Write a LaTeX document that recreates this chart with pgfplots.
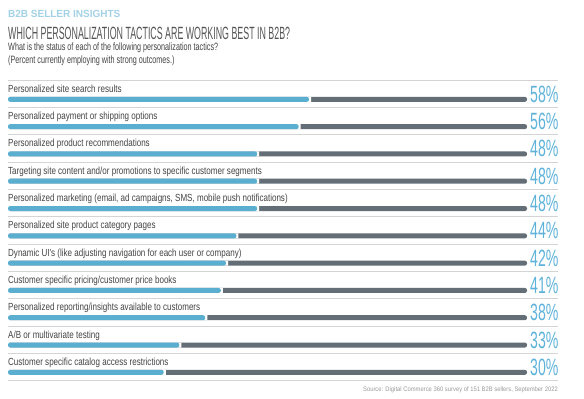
\documentclass[border=0pt]{standalone}
\usepackage{fontspec}
\setmainfont{Liberation Sans}
\newfontfamily\condfont[FakeStretch=0.78]{Liberation Sans}
\newfontfamily\subfont[FakeStretch=0.68]{Liberation Sans}
\newfontfamily\srcfont[FakeStretch=0.9]{Liberation Sans}
\newfontfamily\titlefont[FakeStretch=0.5]{Liberation Sans}
\newfontfamily\pctfont[FakeStretch=0.6]{Liberation Sans}
\newfontfamily\headfont[FakeStretch=0.97]{Liberation Sans}
\usepackage{pgfplots}
\usepackage{pgfplotstable}
\pgfplotsset{compat=1.18}
\definecolor{barblue}{HTML}{5AAED0}
\definecolor{bargray}{HTML}{636E76}
\definecolor{pctblue}{HTML}{5FB3DA}
\definecolor{headblue}{HTML}{A3D2E6}
\definecolor{titlegray}{HTML}{555555}
\definecolor{labelgray}{HTML}{444444}
\definecolor{sepgray}{HTML}{D4D4D4}
\definecolor{srcgray}{HTML}{9A9A9A}

\pgfplotstableread[col sep=semicolon]{
idx;label;v;gapend;full
0;Personalized site search results;58;58.4;100
1;Personalized payment or shipping options;56;56.4;100
2;Personalized product recommendations;48;48.4;100
3;Targeting site content and/or promotions to specific customer segments;48;48.4;100
4;Personalized marketing (email, ad campaigns, SMS, mobile push notifications);48;48.4;100
5;Personalized site product category pages;44;44.4;100
6;Dynamic UI's (like adjusting navigation for each user or company);42;42.4;100
7;Customer specific pricing/customer price books;41;41.4;100
8;Personalized reporting/insights available to customers;38;38.4;100
9;A/B or multivariate testing;33;33.4;100
10;Customer specific catalog access restrictions;30;30.4;100
}\datatable

\begin{document}
\begin{tikzpicture}[x=1bp,y=1bp]
\path[fill=white,use as bounding box] (0,0) rectangle (584,398);
\node[anchor=base west, inner sep=0pt, text=headblue, font=\headfont\bfseries\fontsize{10.3bp}{12bp}\selectfont] at (8,381) {B2B SELLER INSIGHTS};
\node[anchor=base west, inner sep=0pt, text=titlegray, font=\titlefont\fontsize{17.7bp}{20bp}\selectfont] at (8,358.7) {WHICH PERSONALIZATION TACTICS ARE WORKING BEST IN B2B?};
\node[anchor=base west, inner sep=0pt, text=labelgray, font=\subfont\fontsize{10.6bp}{12bp}\selectfont] at (8,348) {What is the status of each of the following personalization tactics?};
\node[anchor=base west, inner sep=0pt, text=labelgray, font=\subfont\fontsize{10.6bp}{12bp}\selectfont] at (8,335) {(Percent currently employing with strong outcomes.)};
\node[anchor=base east, inner sep=0pt, text=srcgray, font=\srcfont\fontsize{6.5bp}{7bp}\selectfont] at (558,7) {Source: Digital Commerce 360 survey of 151 B2B sellers, September 2022};
\begin{axis}[
  at={(8bp,9.3bp)}, anchor=south west,
  scale only axis, width=550bp, height=311.2bp,
  xmin=0, xmax=105.97, ymin=-0.8, ymax=10.6, y dir=reverse,
  xbar, bar width=5bp, bar shift=0pt,
  axis line style={draw=none}, major tick length=0pt,
  xtick=\empty,
  ytick={0,1,2,3,4,5,6,7,8,9,10},
  yticklabels from table={\datatable}{label},
  yticklabel style={anchor=base west, inner sep=0pt, yshift=7bp, xshift=0bp,
    font=\condfont\fontsize{10.3bp}{12bp}\selectfont, text=labelgray},
  extra y ticks={-0.7,0.3,1.3,2.3,3.3,4.3,5.3,6.3,7.3,8.3,9.3,10.3},
  extra y tick labels={},
  extra y tick style={grid=major, major grid style={line width=0.8bp, color=sepgray}},
  clip=false,
  /pgf/number format/assume math mode=true,
]
\addplot[fill=bargray, draw=none, rounded corners=2.2bp, bar shift=0pt,
  point meta=explicit,
  nodes near coords={\pgfmathprintnumber{\pgfplotspointmeta}\%},
  nodes near coords style={anchor=base west, inner sep=0pt, xshift=3bp, yshift=-3bp, text=pctblue,
    font=\pctfont\fontsize{23.5bp}{24bp}\selectfont}]
  table[x=full, y=idx, meta=v]{\datatable};
\addplot[fill=white, draw=none, bar shift=0pt] table[x=gapend, y=idx]{\datatable};
\addplot[fill=barblue, draw=none, rounded corners=2.2bp, bar shift=0pt] table[x=v, y=idx]{\datatable};
\end{axis}
\end{tikzpicture}
\end{document}
